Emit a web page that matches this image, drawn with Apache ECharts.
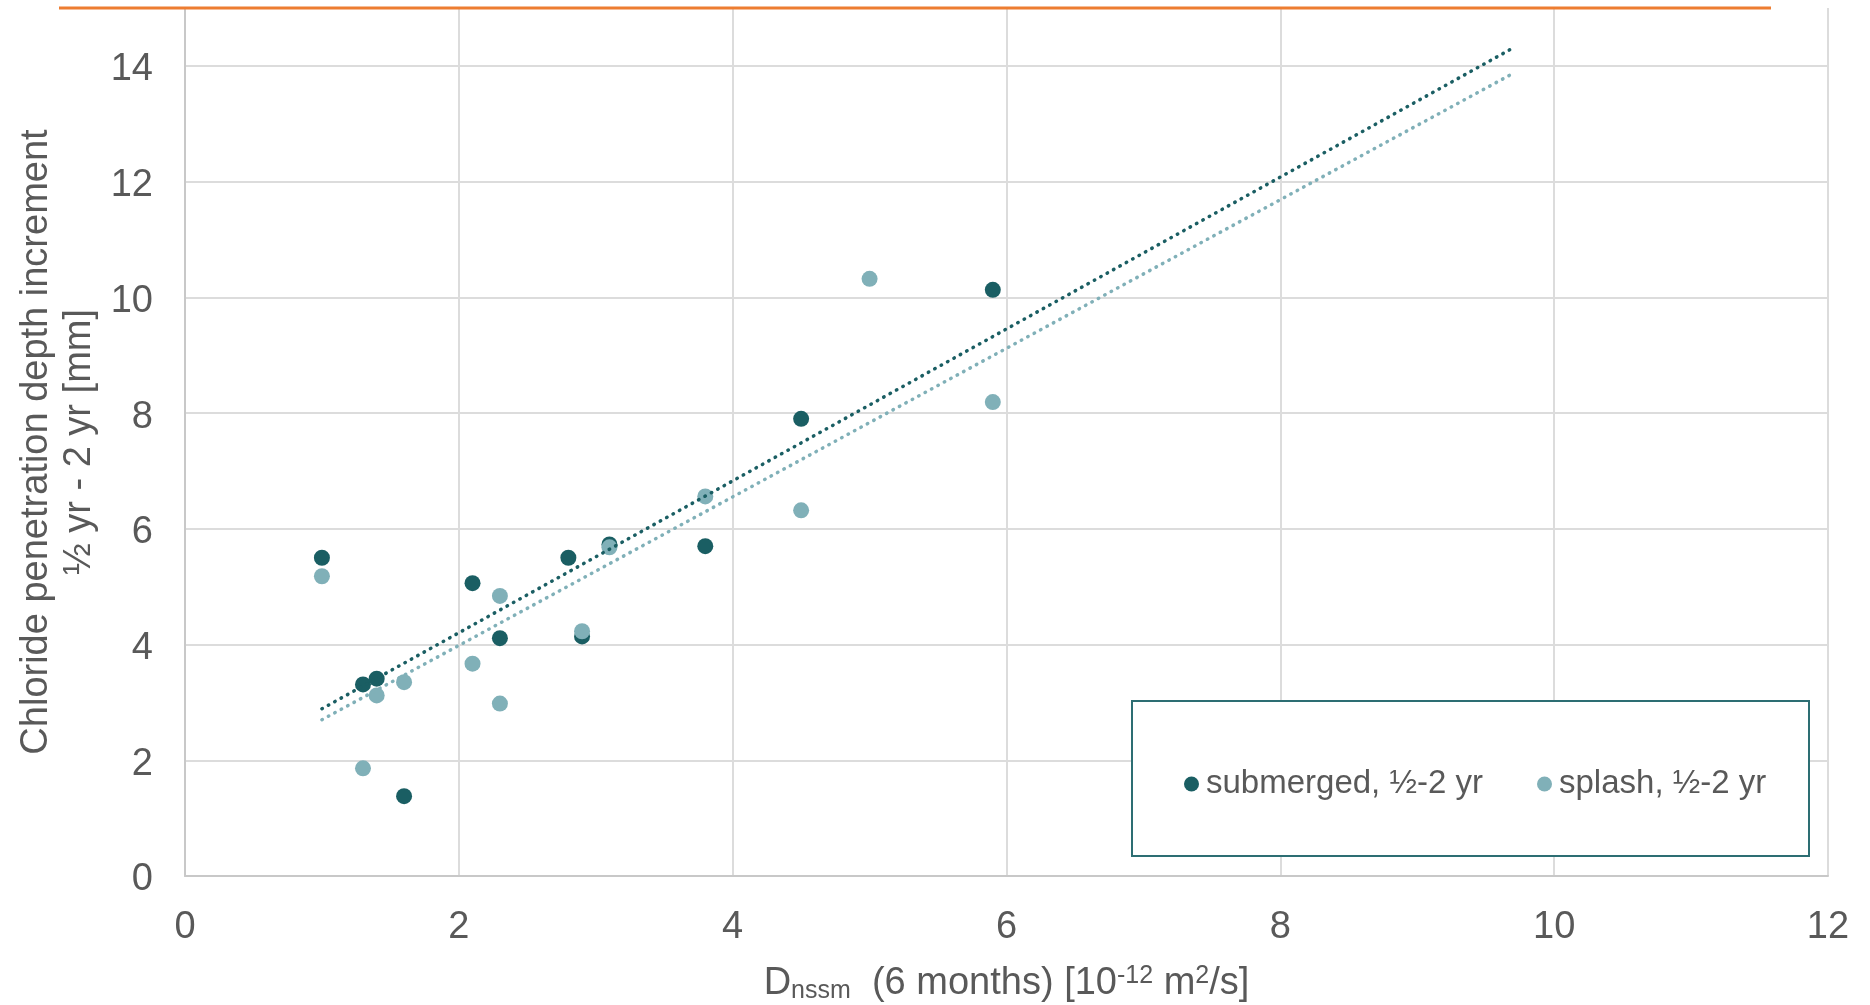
<!DOCTYPE html>
<html>
<head>
<meta charset="utf-8">
<title>Chloride penetration depth increment</title>
<script src="https://cdn.jsdelivr.net/npm/echarts@6/dist/echarts.min.js"></script>
<style>
  html, body { margin: 0; padding: 0; background: #fff; }
  #chart { width: 1870px; height: 1005px; }
</style>
</head>
<body>
<div id="chart"></div>
<script>
(function () {

  // x = Dnssm (6 months), y = depth increment 1/2 yr - 2 yr
  var submergedX = [1.0, 1.3, 1.4, 1.6, 2.1, 2.3, 2.8, 2.9, 3.1, 3.8, 4.5, 5.9];
  var submergedY = [5.50, 3.31, 3.41, 1.38, 5.06, 4.11, 5.50, 4.14, 5.73, 5.70, 7.90, 10.13];

  var splashX = [1.0, 1.3, 1.4, 1.6, 2.1, 2.3, 2.3, 2.9, 3.1, 3.8, 4.5, 5.0, 5.9];
  var splashY = [5.18, 1.86, 3.12, 3.35, 3.67, 4.84, 2.98, 4.23, 5.68, 6.56, 6.32, 10.32, 8.19];

  // linear trendlines, end points
  var trendX = [1.0, 9.7];
  var submergedTrendY = [2.89, 14.31];
  var splashTrendY = [2.70, 13.87];

  var xTicks = [0, 2, 4, 6, 8, 10, 12];
  var yTicks = [0, 2, 4, 6, 8, 10, 12, 14];

  var names = ['submerged, ½-2 yr', 'splash, ½-2 yr'];
  var darkColor = '#1A5E63';
  var lightColor = '#80B0B8';
  var textColor = '#595959';
  var font = 'Liberation Sans, Arial, sans-serif';

  function pairs(xs, ys) {
    return xs.map(function (x, i) { return [x, ys[i]]; });
  }

  var chart = echarts.init(document.getElementById('chart'), null, { renderer: 'canvas' });

  var legendBase = {
    orient: 'horizontal',
    top: 767,
    padding: 0,
    icon: 'circle',
    itemWidth: 15,
    itemHeight: 15,
    itemGap: 10,
    z: 5,
    selectedMode: false,
    textStyle: { color: textColor, fontSize: 33, fontFamily: font, lineHeight: 34, padding: [0, 0, 0, 2] }
  };

  var option = {
    backgroundColor: '#ffffff',
    animation: false,
    grid: {
      left: 185,
      right: 42,
      top: 8,
      bottom: 129,
      outerBoundsMode: 'none'
    },
    xAxis: {
      type: 'value',
      min: xTicks[0],
      max: xTicks[xTicks.length - 1],
      interval: 2,
      name: '{a|D}{sub|nssm}{a|  (6 months) [10}{sup|-12}{a| m}{sup|2}{a|/s]}',
      nameLocation: 'middle',
      nameGap: 88,
      nameMoveOverlap: false,
      nameTextStyle: {
        color: textColor,
        fontFamily: font,
        fontSize: 38,
        rich: {
          a: { color: textColor, fontFamily: font, fontSize: 38, lineHeight: 40, verticalAlign: 'middle' },
          sub: { color: textColor, fontFamily: font, fontSize: 25, lineHeight: 20, verticalAlign: 'bottom' },
          sup: { color: textColor, fontFamily: font, fontSize: 25, lineHeight: 26, verticalAlign: 'top' }
        }
      },
      axisLine: { show: true, onZero: false, lineStyle: { color: '#C8C8C8', width: 2 } },
      axisTick: { show: false },
      axisLabel: { color: textColor, fontFamily: font, fontSize: 38, margin: 33 },
      splitLine: { show: true, lineStyle: { color: '#DCDCDC', width: 2 } }
    },
    yAxis: {
      type: 'value',
      min: yTicks[0],
      max: 15,
      interval: 2,
      name: 'Chloride penetration depth increment\n½ yr - 2 yr [mm]',
      nameLocation: 'middle',
      nameRotate: 90,
      nameGap: 84,
      nameMoveOverlap: false,
      nameTextStyle: { color: textColor, fontFamily: font, fontSize: 38, lineHeight: 43 },
      axisLine: { show: true, onZero: false, lineStyle: { color: '#C8C8C8', width: 2 } },
      axisTick: { show: false },
      axisLabel: {
        color: textColor, fontFamily: font, fontSize: 38, margin: 32,
        // small line box nudges the digits a few px below the gridline
        verticalAlign: 'top', lineHeight: 8, showMaxLabel: false
      },
      splitLine: { show: true, showMaxLine: false, lineStyle: { color: '#DCDCDC', width: 2 } }
    },
    legend: [
      Object.assign({}, legendBase, { left: 1184, data: [names[0]] }),
      Object.assign({}, legendBase, { left: 1537, data: [names[1]] })
    ],
    graphic: [
      {
        // legend frame
        type: 'rect',
        z: 3,
        shape: { x: 1132, y: 701, width: 677, height: 155 },
        style: { fill: '#ffffff', stroke: '#2D6E73', lineWidth: 2 }
      },
      {
        // orange rule along the top
        type: 'line',
        z: 10,
        shape: { x1: 59, y1: 8, x2: 1771, y2: 8 },
        style: { stroke: '#ED7D31', lineWidth: 3 }
      }
    ],
    series: [
      {
        name: names[0],
        type: 'scatter',
        symbol: 'circle',
        symbolSize: 16,
        itemStyle: { color: darkColor, opacity: 1 },
        data: pairs(submergedX, submergedY),
        z: 2
      },
      {
        name: names[1],
        type: 'scatter',
        symbol: 'circle',
        symbolSize: 16,
        itemStyle: { color: lightColor, opacity: 1 },
        data: pairs(splashX, splashY),
        z: 2
      },
      {
        name: 'submerged trend',
        type: 'line',
        showSymbol: false,
        silent: true,
        data: pairs(trendX, submergedTrendY),
        lineStyle: { color: darkColor, width: 3.5, type: [0.5, 6.8], cap: 'round' },
        z: 3
      },
      {
        name: 'splash trend',
        type: 'line',
        showSymbol: false,
        silent: true,
        data: pairs(trendX, splashTrendY),
        lineStyle: { color: lightColor, width: 3.5, type: [0.5, 6.8], cap: 'round' },
        z: 3
      }
    ]
  };

  chart.setOption(option);
}());
</script>
</body>
</html>
